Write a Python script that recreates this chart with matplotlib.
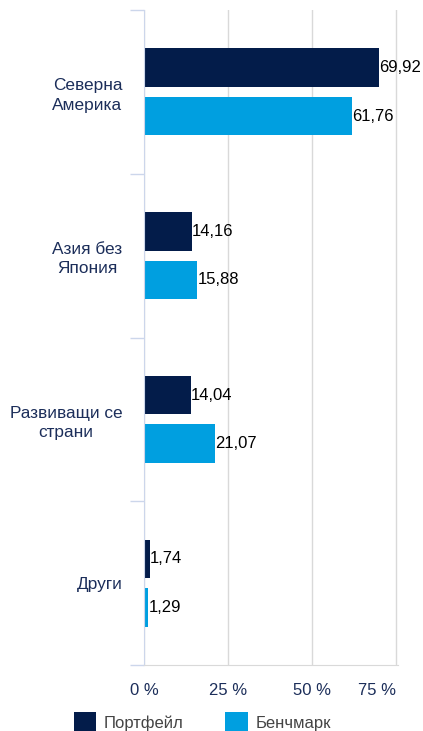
import matplotlib
matplotlib.use("Agg")
import matplotlib.pyplot as plt
from matplotlib.patches import Patch
import numpy as np

plt.rcParams['font.family'] = ['Liberation Sans', 'DejaVu Sans']

categories = ["Северна\nАмерика", "Азия без\nЯпония", "Развиващи се\nстрани", "Други"]
portfolio = [69.92, 14.16, 14.04, 1.74]
benchmark = [61.76, 15.88, 21.07, 1.29]
series_names = ["Портфейл", "Бенчмарк"]
xticks = [0, 25, 50, 75]
xtick_labels = ["0 %", "25 %", "50 %", "75 %"]

navy = "#031c4a"
blue = "#009fe0"
label_col = "#1c2e5a"

fig = plt.figure(figsize=(4.23, 7.31), dpi=100)
ax = fig.add_axes([144/423, 1-665/731, 254/423, 655/731])

y = np.arange(len(categories))
h = 0.236
off = 0.148
b1 = ax.barh(y - off, portfolio, height=h, color=navy)
b2 = ax.barh(y + off, benchmark, height=h, color=blue)

for bars, vals in ((b1, portfolio), (b2, benchmark)):
    for rect, v in zip(bars, vals):
        ax.annotate(f"{v:.2f}".replace(".", ","),
                    xy=(rect.get_width(), rect.get_y() + rect.get_height()/2),
                    xytext=(0, 0), textcoords="offset points",
                    va="center", ha="left", fontsize=12, color="black",
                    annotation_clip=False)

ax.set_xlim(0, 75.5)
ax.set_ylim(3.5, -0.5)
ax.set_xticks(xticks)
ax.set_xticklabels(xtick_labels, fontsize=12, color=label_col)
ax.get_xticklabels()[-1].set_horizontalalignment("right")
ax.tick_params(axis="x", length=0, pad=13)
ax.set_yticks(y)
ax.set_yticklabels(categories, fontsize=12.4, color=label_col, ha="right",
                   multialignment="center", linespacing=1.35)
ax.tick_params(axis="y", which="major", length=0, pad=15.5)
ax.set_yticks(np.arange(-0.5, 4, 1), minor=True)
ax.tick_params(axis="y", which="minor", length=10, width=1, color="#ccd6eb")

ax.grid(axis="x", color="#d9d9d9", linewidth=1)
ax.set_axisbelow(True)
for s in ["top", "right"]:
    ax.spines[s].set_visible(False)
ax.spines["left"].set_color("#ccd6eb")
ax.spines["bottom"].set_color("#d9d9d9")

handles = [Patch(facecolor=navy, edgecolor="none"), Patch(facecolor=blue, edgecolor="none")]
fig.legend(handles, series_names, loc="center", bbox_to_anchor=(0.478, 1-722/731),
           ncol=2, frameon=False, fontsize=12, handlelength=1.35, handleheight=1.45,
           columnspacing=2.5, handletextpad=0.45, labelcolor="#444444")

fig.savefig("out.png", dpi=100)
